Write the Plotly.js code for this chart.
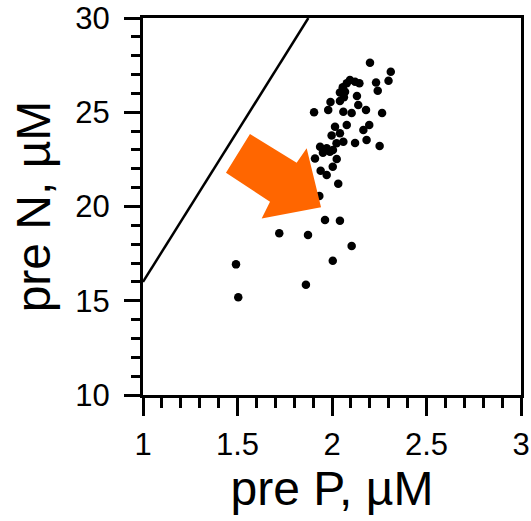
<!DOCTYPE html>
<html>
<head>
<meta charset="utf-8">
<script src="https://cdn.plot.ly/plotly-3.0.1.min.js"></script>
<style>html,body{margin:0;padding:0;background:#fff;}#chart{width:531px;height:521px;}</style>
</head>
<body>
<div id="chart"></div>
<script>
// pre P (µM) and pre N (µM)
const preP = [2.201, 2.311, 2.299, 2.233, 2.242, 2.095, 2.122, 2.145, 2.078, 2.057,
              2.069, 2.132, 1.992, 2.042, 1.905, 1.980, 2.060, 2.104, 2.139, 2.180,
              2.265, 2.016, 2.078, 2.166, 2.197, 2.042, 1.998, 2.024, 2.060, 2.122,
              2.183, 2.252, 1.937, 1.972, 2.005, 1.910, 2.025, 1.952, 1.989, 1.940,
              1.972, 2.004, 2.033, 1.933, 1.963, 2.042, 1.721, 1.873, 2.104, 1.492,
              2.004, 1.862, 1.504, 2.063, 2.042];
const preN = [27.63, 27.15, 26.67, 26.58, 26.14, 26.71, 26.62, 26.54, 26.54, 26.32,
              26.09, 25.86, 25.54, 25.60, 25.00, 25.12, 25.03, 24.96, 25.38, 25.12,
              24.96, 24.23, 24.32, 24.06, 24.32, 23.88, 23.77, 23.35, 23.44, 23.37,
              23.53, 23.21, 23.17, 23.09, 23.00, 22.55, 22.52, 22.85, 22.91, 21.90,
              21.67, 22.11, 21.21, 20.56, 19.28, 19.25, 18.58, 18.49, 17.90, 16.93,
              17.12, 15.85, 15.18, 25.80, 26.05];
// Redfield ratio line N = 16 P
const ratio = 16;
const lineP = [1, 30 / ratio];
const lineN = lineP.map(p => p * ratio);
// orange arrow outline (data coordinates)
const arrowP = [1.566, 1.439, 1.672, 1.628, 1.942, 1.866, 1.813];
const arrowN = [23.85, 21.79, 20.25, 19.37, 19.96, 23.09, 22.32];

const xTicks = [1, 1.5, 2, 2.5, 3];
const xTickText = ['1', '1.5', '2', '2.5', '3'];
const yTicks = [10, 15, 20, 25, 30];
const yTickText = ['10', '15', '20', '25', '30'];

const arrowPath = 'M ' + arrowP.map((p, i) => p + ',' + arrowN[i]).join(' L ') + ' Z';

const traces = [
  {x: lineP, y: lineN, mode: 'lines', line: {color: '#000', width: 2.5}, hoverinfo: 'skip', cliponaxis: true},
  {x: preP, y: preN, mode: 'markers', marker: {color: '#000', size: 8.5}, cliponaxis: true}
];

const font = {family: '"Liberation Sans", Arial, sans-serif', color: '#000'};
const axisCommon = {
  showgrid: false, zeroline: false, showline: true, mirror: true,
  linecolor: '#000', linewidth: 3, ticks: 'outside', tickcolor: '#000', tickwidth: 3,
  tickfont: Object.assign({size: 31}, font)
};

const layout = {
  width: 531, height: 521,
  margin: {l: 143, r: 10, t: 18, b: 126},
  paper_bgcolor: '#fff', plot_bgcolor: '#fff',
  showlegend: false,
  font: font,
  xaxis: Object.assign({}, axisCommon, {
    range: [1, 3], tickvals: xTicks, ticktext: xTickText, ticklen: 18,
    ticklabelstandoff: 2,
    minor: {dtick: 0.1, ticks: 'outside', ticklen: 10, tickwidth: 3, tickcolor: '#000', showgrid: false},
    title: {text: 'pre P, µM', font: Object.assign({size: 48}, font), standoff: 4}
  }),
  yaxis: Object.assign({}, axisCommon, {
    range: [10, 30], tickvals: yTicks, ticktext: yTickText, ticklen: 16,
    ticklabelstandoff: 8,
    minor: {dtick: 1, ticks: 'outside', ticklen: 9, tickwidth: 3, tickcolor: '#000', showgrid: false},
    title: {text: 'pre N, µM', font: Object.assign({size: 48}, font), standoff: 10}
  }),
  shapes: [
    {type: 'path', xref: 'x', yref: 'y', path: arrowPath, fillcolor: '#FF6600', line: {width: 0}, layer: 'above'}
  ]
};

Plotly.newPlot('chart', traces, layout, {displayModeBar: false, staticPlot: true});
</script>
</body>
</html>
